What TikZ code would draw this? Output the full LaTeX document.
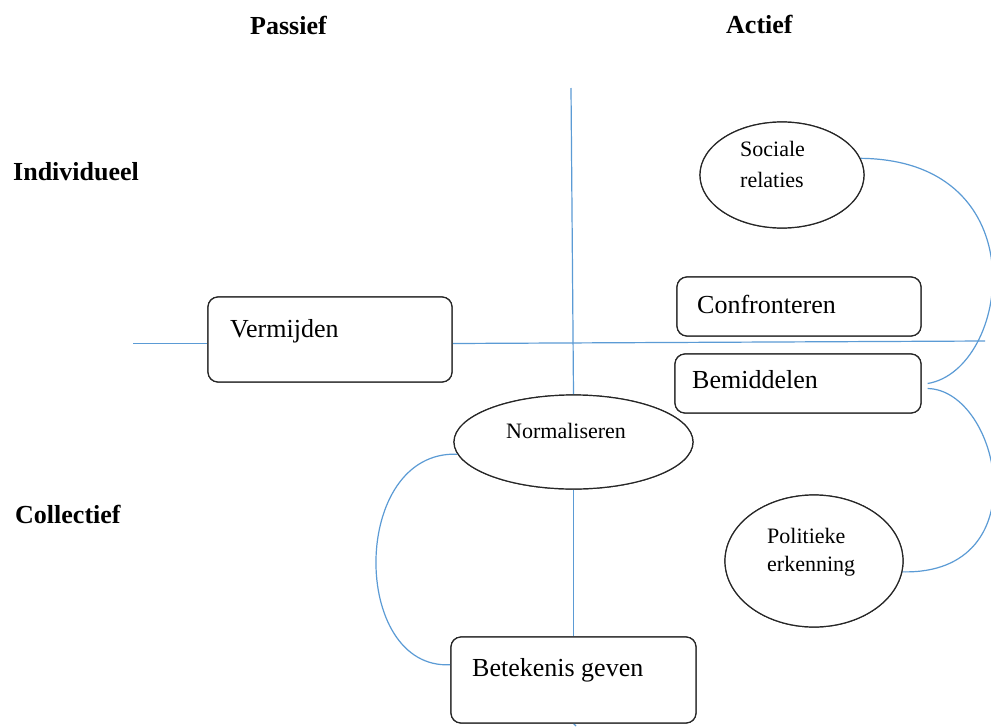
\documentclass[tikz,border=0pt]{standalone}
\usepackage{fontspec}
\setmainfont{Liberation Serif}
\usetikzlibrary{shapes.geometric,calc}
\definecolor{linkblue}{RGB}{91,155,213}
\tikzset{
  boxnode/.style={draw=black!85,line width=1.2pt,rounded corners=10pt,fill=white,inner sep=0pt},
  ovalnode/.style={draw=black!85,line width=1.2pt,ellipse,fill=white,inner sep=0pt},
  link/.style={draw=linkblue,line width=1.2pt},
  headtext/.style={anchor=base west,inner sep=0pt,font=\fontsize{26}{30}\selectfont\bfseries},
  bigtext/.style={anchor=base west,inner sep=0pt,font=\fontsize{26}{30}\selectfont},
  smalltext/.style={anchor=base west,inner sep=0pt,font=\fontsize{22}{26}\selectfont},
}
\begin{document}
\begin{tikzpicture}[x=1pt,y=-1pt]
\useasboundingbox[fill=white] (0,0) rectangle (991,726);

% axis end points
\coordinate (htop) at (571,88);
\coordinate (hbot) at (576,726);
\coordinate (hleft) at (133,343.5);
\coordinate (hright) at (985,341);

% shapes
\node[boxnode,minimum width=244pt,minimum height=85pt] (verm) at (330,339.5) {};
\node[boxnode,minimum width=244pt,minimum height=59pt] (conf) at (799,306.5) {};
\node[boxnode,minimum width=246pt,minimum height=59pt] (bem) at (798,383.5) {};
\node[boxnode,minimum width=245pt,minimum height=86pt] (bet) at (573.5,680) {};
\node[ovalnode,minimum width=164pt,minimum height=106pt] (soc) at (782,175) {};
\node[ovalnode,minimum width=239pt,minimum height=94pt] (norm) at (573.5,442) {};
\node[ovalnode,minimum width=178pt,minimum height=132pt] (pol) at (814,561) {};

% connectors (axes)
\draw[link] (hleft) -- (hleft -| verm.west);
\draw[link] (hleft -| verm.east) -- (hright);
\draw[link] (htop) -- (norm.north);
\draw[link] (norm.south) -- (bet.north);
\draw[link] (bet.south) -- (hbot);

% connector curves
\coordinate (bemR1) at ($(bem.east)+(6,0)$);
\coordinate (bemR2) at ($(bem.east)+(6,5)$);
\coordinate (betL) at ($(bet.west)!0.35!(bet.north west)$);
\draw[link] (soc.12) .. controls (1040,160) and (1010,370) .. (bemR1);
\draw[link] (bemR2) .. controls (1000,390) and (1040,575) .. (pol.-7);
\draw[link] (norm.186) .. controls (350,450) and (350,670) .. (betL);

% redraw shapes on top of axis lines
\node[boxnode,minimum width=244pt,minimum height=85pt] at (verm) {};
\node[boxnode,minimum width=244pt,minimum height=59pt] at (conf) {};
\node[boxnode,minimum width=246pt,minimum height=59pt] at (bem) {};
\node[boxnode,minimum width=245pt,minimum height=86pt] at (bet) {};
\node[ovalnode,minimum width=164pt,minimum height=106pt] at (soc) {};
\node[ovalnode,minimum width=239pt,minimum height=94pt] at (norm) {};
\node[ovalnode,minimum width=178pt,minimum height=132pt] at (pol) {};

% headings
\node[headtext] (tpas) at (250,34) {Passief};
\node[headtext] (tact) at (726,33) {Actief};
\node[headtext] (tind) at (13,180) {Individueel};
\node[headtext] (tcol) at (15,523) {Collectief};

% labels
\node[bigtext] (lverm) at (230,337) {Vermijden};
\node[bigtext] (lconf) at (697,313) {Confronteren};
\node[bigtext] (lbem) at (692,388) {Bemiddelen};
\node[bigtext] (lbet) at (472,676) {Betekenis geven};
\node[smalltext] (lnorm) at (506,438) {Normaliseren};
\node[smalltext] (lsoc1) at (740,156) {Sociale};
\node[smalltext] (lsoc2) at (740,187) {relaties};
\node[smalltext] (lpol1) at (767,543) {Politieke};
\node[smalltext] (lpol2) at (767,571) {erkenning};
\end{tikzpicture}
\end{document}
